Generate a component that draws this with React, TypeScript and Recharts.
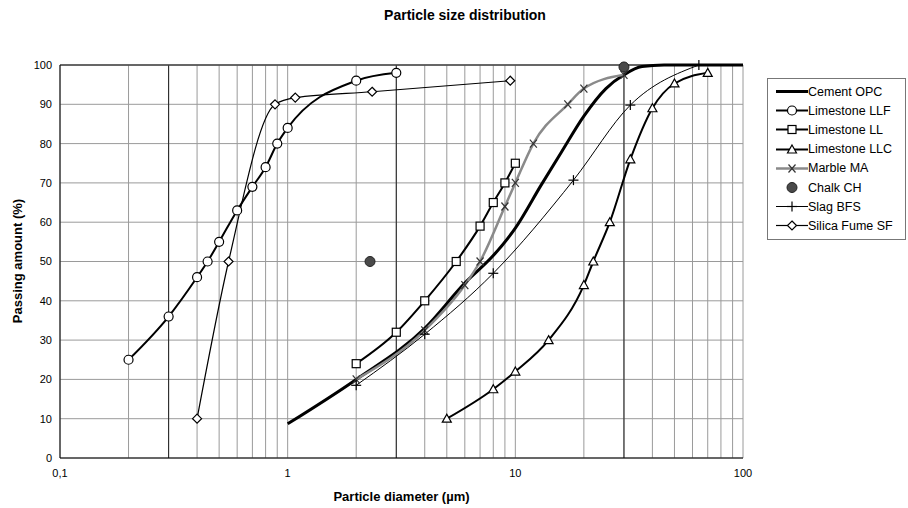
import { LineChart, Line, XAxis, YAxis, CartesianGrid, ReferenceLine } from "recharts";

// Particle size distribution (x in µm, y in % passing)
const cementX = [1, 2, 4, 6, 8, 10, 13, 16, 20, 25, 30, 36, 45, 100];
const cementY = [8.7, 20, 33, 44.5, 51.5, 58.5, 69.5, 78, 87, 94, 97.5, 99.6, 100, 100];

const llfX = [0.2, 0.3, 0.4, 0.445, 0.5, 0.6, 0.7, 0.8, 0.9, 1.0, 2.0, 3.0];
const llfY = [25, 36, 46, 50, 55, 63, 69, 74, 80, 84, 96, 98];

const llX = [2, 3, 4, 5.5, 7, 8, 9, 10];
const llY = [24, 32, 40, 50, 59, 65, 70, 75];

const llcX = [5, 8, 10, 14, 20, 22, 26, 32, 40, 50, 70];
const llcY = [10, 17.5, 22, 30, 44, 50, 60, 76, 89, 95.3, 98];

const marbleX = [2, 4, 6, 7, 9, 10, 12, 17, 20, 30];
const marbleY = [20, 32.5, 44, 50, 64, 70, 80, 90, 94, 97.5];

const chalkX = [2.3, 30];
const chalkY = [50, 99.5];

const slagX = [2, 4, 8, 18, 32, 64];
const slagY = [18.5, 31.5, 47, 70.7, 89.8, 100];

const sfX = [0.4, 0.55, 0.88, 1.08, 2.35, 9.5];
const sfY = [10, 50, 90, 91.7, 93.2, 96];

const xTicks = [
  0.1, 0.2, 0.3, 0.4, 0.5, 0.6, 0.7, 0.8, 0.9,
  1, 2, 3, 4, 5, 6, 7, 8, 9,
  10, 20, 30, 40, 50, 60, 70, 80, 90, 100,
];
const xLabels: Record<string, string> = { "0.1": "0,1", "1": "1", "10": "10", "100": "100" };
const yTicks = [0, 10, 20, 30, 40, 50, 60, 70, 80, 90, 100];
const darkGrid = [0.3, 3, 30];

const toPoints = (xs: number[], ys: number[]) => xs.map((x, i) => ({ x, y: ys[i] }));

const FONT = '"Liberation Sans", Arial, sans-serif';

type MarkerKind = "none" | "circle" | "square" | "triangle" | "cross" | "dot" | "plus" | "diamond";

function Marker({ kind, cx, cy }: { kind: MarkerKind; cx: number; cy: number }) {
  switch (kind) {
    case "circle":
      return <circle cx={cx} cy={cy} r={4.5} fill="#fff" stroke="#000" strokeWidth={1.2} />;
    case "square":
      return <rect x={cx - 4} y={cy - 4} width={8} height={8} fill="#fff" stroke="#000" strokeWidth={1.2} />;
    case "triangle":
      return (
        <polygon
          points={`${cx},${cy - 4.5} ${cx + 4.5},${cy + 3.5} ${cx - 4.5},${cy + 3.5}`}
          fill="#fff"
          stroke="#000"
          strokeWidth={1.2}
        />
      );
    case "diamond":
      return (
        <polygon
          points={`${cx},${cy - 4.5} ${cx + 4.5},${cy} ${cx},${cy + 4.5} ${cx - 4.5},${cy}`}
          fill="#fff"
          stroke="#000"
          strokeWidth={1.2}
        />
      );
    case "cross":
      return (
        <g stroke="#333" strokeWidth={1.2}>
          <line x1={cx - 3.5} y1={cy - 4} x2={cx + 3.5} y2={cy + 4} />
          <line x1={cx - 3.5} y1={cy + 4} x2={cx + 3.5} y2={cy - 4} />
        </g>
      );
    case "plus":
      return (
        <g stroke="#000" strokeWidth={1.2}>
          <line x1={cx - 5} y1={cy} x2={cx + 5} y2={cy} />
          <line x1={cx} y1={cy - 5} x2={cx} y2={cy + 5} />
        </g>
      );
    case "dot":
      return <circle cx={cx} cy={cy} r={5} fill="#4a4a4a" stroke="#222" strokeWidth={1} />;
    default:
      return null;
  }
}

interface Series {
  name: string;
  xs: number[];
  ys: number[];
  stroke: string;
  width: number;
  marker: MarkerKind;
}

const series: Series[] = [
  { name: "Cement OPC", xs: cementX, ys: cementY, stroke: "#000", width: 3, marker: "none" },
  { name: "Limestone LLF", xs: llfX, ys: llfY, stroke: "#000", width: 2, marker: "circle" },
  { name: "Limestone LL", xs: llX, ys: llY, stroke: "#000", width: 2, marker: "square" },
  { name: "Limestone LLC", xs: llcX, ys: llcY, stroke: "#000", width: 2, marker: "triangle" },
  { name: "Marble MA", xs: marbleX, ys: marbleY, stroke: "#8a8a8a", width: 2.5, marker: "cross" },
  { name: "Chalk CH", xs: chalkX, ys: chalkY, stroke: "none", width: 0, marker: "dot" },
  { name: "Slag BFS", xs: slagX, ys: slagY, stroke: "#000", width: 1, marker: "plus" },
  { name: "Silica Fume SF", xs: sfX, ys: sfY, stroke: "#000", width: 1.2, marker: "diamond" },
];

function LegendBox() {
  return (
    <div
      style={{
        position: "absolute",
        left: 767,
        top: 78,
        width: 139,
        padding: "3px 0",
        border: "1px solid #777",
        background: "#fff",
        fontFamily: FONT,
        fontSize: 12.5,
        boxSizing: "border-box",
      }}
    >
      {series.map((s) => (
        <div key={s.name} style={{ display: "flex", alignItems: "center", height: 19.2 }}>
          <svg width={40} height={19} style={{ flex: "none" }}>
            {s.stroke !== "none" && (
              <line x1={8} y1={9.5} x2={40} y2={9.5} stroke={s.stroke} strokeWidth={s.width} />
            )}
            <Marker kind={s.marker} cx={24} cy={9.5} />
          </svg>
          <span style={{ whiteSpace: "nowrap" }}>{s.name}</span>
        </div>
      ))}
    </div>
  );
}

export default function App() {
  return (
    <div
      style={{
        position: "absolute",
        left: 0,
        top: 0,
        width: 908,
        height: 508,
        background: "#fff",
        fontFamily: FONT,
      }}
    >
      <div
        style={{
          position: "absolute",
          left: 0,
          width: 930,
          top: 7,
          textAlign: "center",
          fontWeight: "bold",
          fontSize: 14,
        }}
      >
        Particle size distribution
      </div>
      <LineChart width={908} height={508} margin={{ top: 65, right: 165, left: 0, bottom: 20 }}>
        <CartesianGrid stroke="#9a9a9a" strokeWidth={1} verticalValues={xTicks} />
        {darkGrid.map((v) => (
          <ReferenceLine key={v} x={v} stroke="#222" strokeWidth={1} />
        ))}
        <ReferenceLine y={100} stroke="#444" strokeWidth={1.5} />
        <XAxis
          dataKey="x"
          type="number"
          scale="log"
          domain={[0.1, 100]}
          ticks={xTicks}
          interval={0}
          allowDataOverflow
          height={30}
          tickLine={false}
          tickMargin={5}
          stroke="#000"
          tick={{ fill: "#000", fontSize: 11, fontFamily: FONT }}
          tickFormatter={(v: number) => xLabels[String(v)] ?? ""}
        />
        <YAxis
          dataKey="y"
          type="number"
          domain={[0, 100]}
          ticks={yTicks}
          interval={0}
          width={60}
          tickLine={false}
          stroke="#000"
          tick={{ fill: "#000", fontSize: 11, fontFamily: FONT }}
        />
        {series.map((s) => (
          <Line
            key={s.name}
            name={s.name}
            data={toPoints(s.xs, s.ys)}
            dataKey="y"
            type="monotone"
            stroke={s.stroke}
            strokeWidth={s.width}
            isAnimationActive={false}
            activeDot={false}
            dot={(p: any) => (
              <Marker key={`${s.name}-${p.index}`} kind={s.marker} cx={p.cx} cy={p.cy} />
            )}
          />
        ))}
      </LineChart>
      <div
        style={{
          position: "absolute",
          left: 60,
          width: 683,
          top: 489,
          textAlign: "center",
          fontWeight: "bold",
          fontSize: 13,
        }}
      >
        Particle diameter (µm)
      </div>
      <div
        style={{
          position: "absolute",
          left: 17,
          top: 261,
          transform: "translate(-50%, -50%) rotate(-90deg)",
          whiteSpace: "nowrap",
          fontWeight: "bold",
          fontSize: 13,
        }}
      >
        Passing amount (%)
      </div>
      <LegendBox />
    </div>
  );
}
